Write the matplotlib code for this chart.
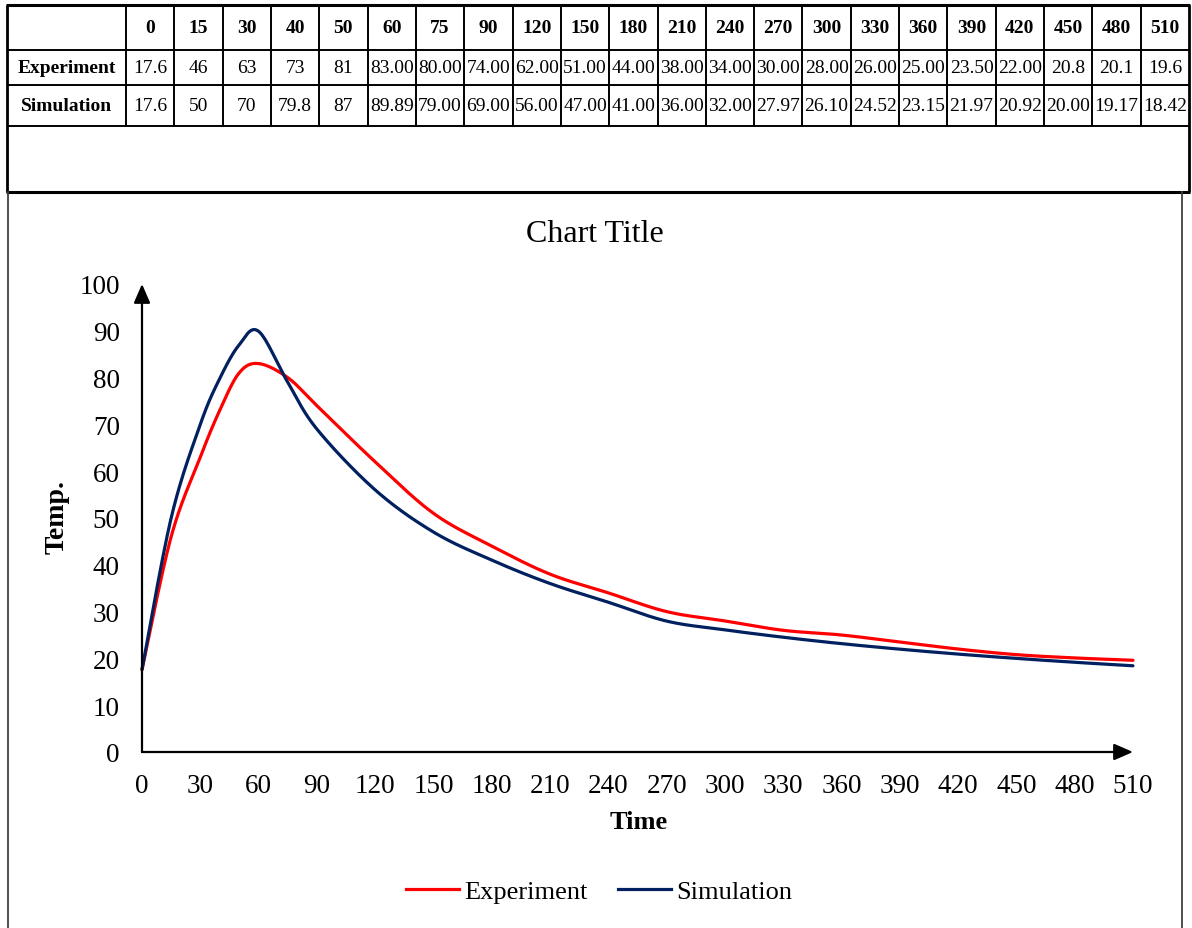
import numpy as np
import matplotlib
matplotlib.use("Agg")
import matplotlib.pyplot as plt
from matplotlib.lines import Line2D

# ---- data -------------------------------------------------------------
times = [0, 15, 30, 40, 50, 60, 75, 90, 120, 150, 180, 210, 240, 270,
         300, 330, 360, 390, 420, 450, 480, 510]
experiment_text = ["17.6", "46", "63", "73", "81", "83.00", "80.00", "74.00",
                   "62.00", "51.00", "44.00", "38.00", "34.00", "30.00",
                   "28.00", "26.00", "25.00", "23.50", "22.00", "20.8",
                   "20.1", "19.6"]
simulation_text = ["17.6", "50", "70", "79.8", "87", "89.89", "79.00", "69.00",
                   "56.00", "47.00", "41.00", "36.00", "32.00", "27.97",
                   "26.10", "24.52", "23.15", "21.97", "20.92", "20.00",
                   "19.17", "18.42"]
series_names = ["Experiment", "Simulation"]
series_colors = ["#FF0000", "#002060"]
x_ticks = list(range(0, 511, 30))
y_ticks = list(range(0, 101, 10))

experiment = [float(s) for s in experiment_text]
simulation = [float(s) for s in simulation_text]

plt.rcParams["font.family"] = ["Liberation Serif", "DejaVu Serif"]

W, H = 1192, 929
fig = plt.figure(figsize=(W / 100, H / 100), dpi=100)

# background layer in pixel coordinates for the table and chart frame
bg = fig.add_axes([0, 0, 1, 1], zorder=0)
bg.set_xlim(0, W)
bg.set_ylim(H, 0)
bg.axis("off")


def smooth_curve(x, y, n=40):
    """Catmull-Rom style cubic Bezier smoothing through every point."""
    x = np.asarray(x, float)
    y = np.asarray(y, float)
    px = np.concatenate([[x[0]], x, [x[-1]]])
    py = np.concatenate([[y[0]], y, [y[-1]]])
    xs, ys = [], []
    t = np.linspace(0, 1, n)
    for i in range(1, len(px) - 2):
        p0 = np.array([px[i], py[i]])
        p3 = np.array([px[i + 1], py[i + 1]])
        c1 = p0 + (np.array([px[i + 1], py[i + 1]]) - np.array([px[i - 1], py[i - 1]])) / 6
        c2 = p3 - (np.array([px[i + 2], py[i + 2]]) - np.array([px[i], py[i]])) / 6
        b = ((1 - t) ** 3)[:, None] * p0 + (3 * (1 - t) ** 2 * t)[:, None] * c1 \
            + (3 * (1 - t) * t ** 2)[:, None] * c2 + (t ** 3)[:, None] * p3
        if i > 1:
            b = b[1:]
        xs.append(b[:, 0])
        ys.append(b[:, 1])
    return np.concatenate(xs), np.concatenate(ys)


# ---- data table -------------------------------------------------------
left, label_right, right = 7, 126, 1189
row_y = [6, 51, 86, 127, 193]
ncol = len(times)
cw = (right - label_right) / ncol
col_x = [left, label_right] + [label_right + (i + 1) * cw for i in range(ncol)]

for y in row_y[1:4]:
    bg.plot([left, right], [y, y], color="black", lw=1.4, solid_capstyle="butt")
for y in (row_y[0], row_y[-1]):
    bg.plot([left - 1, right + 1], [y, y], color="black", lw=2.2, solid_capstyle="butt")
for x in col_x[1:-1]:
    bg.plot([x, x], [row_y[0], row_y[3]], color="black", lw=1.4, solid_capstyle="butt")
for x in (left, right):
    bg.plot([x, x], [row_y[0], row_y[-1]], color="black", lw=2.0, solid_capstyle="butt")

fs_tab = 14
for i, t in enumerate(times):
    cx = label_right + (i + 0.5) * cw
    bg.text(cx, (row_y[0] + row_y[1]) / 2, str(t), ha="center", va="center",
            fontsize=fs_tab, fontweight="bold")
    bg.text(cx, (row_y[1] + row_y[2]) / 2, experiment_text[i], ha="center",
            va="center", fontsize=fs_tab)
    bg.text(cx, (row_y[2] + row_y[3]) / 2, simulation_text[i], ha="center",
            va="center", fontsize=fs_tab)
for r, name in enumerate(series_names):
    bg.text((left + label_right) / 2, (row_y[r + 1] + row_y[r + 2]) / 2, name,
            ha="center", va="center", fontsize=fs_tab, fontweight="bold")

# chart frame below the table
for x in (8, 1182):
    bg.plot([x, x], [193, H], color="#404040", lw=1.3)

# ---- chart ------------------------------------------------------------
ax_l, ax_r, ax_b, ax_t = 142, 1133, 753, 285
ax = fig.add_axes([ax_l / W, 1 - ax_b / H, (ax_r - ax_l) / W, (ax_b - ax_t) / H],
                  zorder=1)
ax.patch.set_alpha(0)
ax.set_xlim(0, 510)
ax.set_ylim(0, 100)
for s in ax.spines.values():
    s.set_visible(False)
ax.set_xticks(x_ticks)
ax.set_yticks(y_ticks)
ax.tick_params(length=0, labelsize=19.5, colors="#000000")
ax.tick_params(axis="x", pad=15)
ax.tick_params(axis="y", pad=16)

arrow = dict(arrowstyle="-|>,head_length=1.15,head_width=0.5", color="black",
             lw=1.6, shrinkA=0, shrinkB=0, mutation_scale=10)
ax.annotate("", xy=(1, 0), xytext=(0, 0), xycoords="axes fraction",
            textcoords="axes fraction", arrowprops=arrow)
ax.annotate("", xy=(0, 1), xytext=(0, 0), xycoords="axes fraction",
            textcoords="axes fraction", arrowprops=arrow)

handles = []
for vals, name, col in zip([experiment, simulation], series_names, series_colors):
    sx, sy = smooth_curve(times, vals)
    ax.plot(sx, sy, color=col, lw=2.3, solid_capstyle="round", clip_on=False)
    handles.append(Line2D([], [], color=col, lw=2.3))

fig.text(595 / W, 1 - 234 / H, "Chart Title", ha="center", va="center", fontsize=23)
fig.text(639 / W, 1 - 823 / H, "Time", ha="center", va="center", fontsize=19,
         fontweight="bold")
fig.text(57 / W, 1 - 517 / H, "Temp.", ha="center", va="center", fontsize=20,
         fontweight="bold", rotation=90)

fig.legend(handles, series_names, loc="center", bbox_to_anchor=(599 / W, 1 - 892 / H),
           ncol=2, frameon=False, fontsize=19, handlelength=2.0,
           handletextpad=0.2, columnspacing=1.15)

fig.savefig("out.png", dpi=100)
